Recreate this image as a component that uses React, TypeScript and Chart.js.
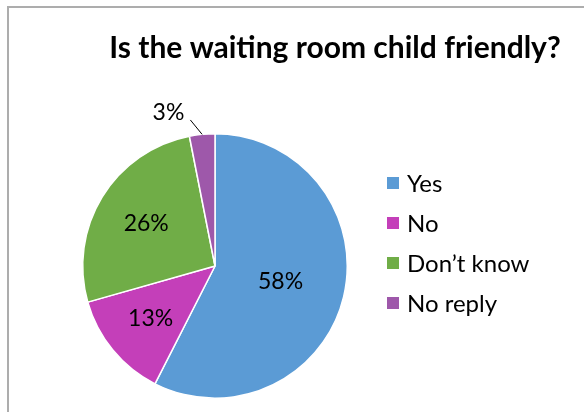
import React, { useEffect, useRef } from "react";
import { Chart, registerables } from "chart.js";

Chart.register(...registerables);

const titleText = "Is the waiting room child friendly?";
const categories = ["Yes", "No", "Don\u2019t know", "No reply"];
const values = [57.5, 13.1, 26.3, 3.1];
const colors = ["#5B9BD5", "#C43FB9", "#70AD47", "#9E58AA"];

const FONT = "Lato, 'Open Sans', sans-serif";

const decorPlugin = {
  id: "decor",
  afterDraw(chart: any) {
    const ctx = chart.ctx;
    ctx.save();
    // frame border
    ctx.strokeStyle = "#ADADAD";
    ctx.lineWidth = 2;
    ctx.beginPath();
    ctx.moveTo(8, 412);
    ctx.lineTo(8, 7);
    ctx.lineTo(584, 7);
    ctx.stroke();

    // title
    ctx.fillStyle = "#000";
    ctx.font = `bold 30px ${FONT}`;
    ctx.textAlign = "center";
    ctx.textBaseline = "middle";
    ctx.fillText(titleText, 335, 48);

    // data labels
    const meta = chart.getDatasetMeta(0);
    const fractions = [0.51, 0.63, 0.61];
    ctx.font = `23px ${FONT}`;
    meta.data.forEach((arc: any, i: number) => {
      const p = arc.getProps(["x", "y", "startAngle", "endAngle", "outerRadius"], true);
      const mid = (p.startAngle + p.endAngle) / 2;
      const txt = Math.round(values[i]) + "%";
      if (i < 3) {
        const r = p.outerRadius * fractions[i];
        ctx.textAlign = "center";
        ctx.fillText(txt, p.x + Math.cos(mid) * r, p.y + Math.sin(mid) * r);
      } else {
        const ex = p.x + Math.cos(mid) * p.outerRadius;
        const ey = p.y + Math.sin(mid) * p.outerRadius;
        const a2 = mid - (4 * Math.PI) / 180;
        const lx = p.x + Math.cos(a2) * p.outerRadius * 1.12;
        const ly = p.y + Math.sin(a2) * p.outerRadius * 1.12;
        ctx.strokeStyle = "#000";
        ctx.lineWidth = 1;
        ctx.beginPath();
        ctx.moveTo(ex, ey);
        ctx.lineTo(lx, ly);
        ctx.stroke();
        ctx.textAlign = "right";
        ctx.fillText(txt, lx - 6, ly - 7);
      }
    });

    // legend
    ctx.font = `24px ${FONT}`;
    ctx.textAlign = "left";
    categories.forEach((c, i) => {
      const y = 183 + i * 40;
      ctx.fillStyle = colors[i];
      ctx.fillRect(387, y - 6, 12, 12);
      ctx.fillStyle = "#000";
      ctx.fillText(c, 407, y + 1);
    });
    ctx.restore();
  },
};

export default function App() {
  const ref = useRef<HTMLCanvasElement>(null);
  useEffect(() => {
    document.body.style.margin = "0";
    const chart = new Chart(ref.current!, {
      type: "pie",
      data: {
        labels: categories,
        datasets: [
          {
            data: values,
            backgroundColor: colors,
            borderColor: "#ffffff",
            borderWidth: 1.5,
          },
        ],
      },
      options: {
        responsive: false,
        animation: false,
        layout: { padding: { left: 82, top: 133, right: 236, bottom: 13 } },
        plugins: {
          legend: { display: false },
          title: { display: false },
          tooltip: { enabled: false },
        },
      },
      plugins: [decorPlugin],
    });
    return () => chart.destroy();
  }, []);
  return (
    <div style={{ position: "absolute", left: 0, top: 0, width: 584, height: 412, background: "#fff" }}>
      <canvas ref={ref} width={584} height={412} style={{ width: 584, height: 412 }} />
    </div>
  );
}
